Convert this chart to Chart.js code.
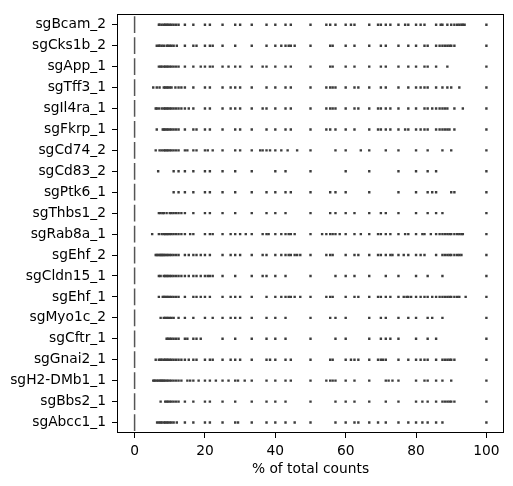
<!DOCTYPE html>
<html>
<head>
<meta charset="utf-8">
<script src="https://cdn.jsdelivr.net/npm/chart.js@4.4.1/dist/chart.umd.min.js"></script>
<style>
  html, body { margin: 0; padding: 0; background: #ffffff; }
  #wrap { width: 513px; height: 486px; position: relative; }
</style>
</head>
<body>
<div id="wrap"><canvas id="c"></canvas></div>
<script>
// ---- data ----
const categories = ["sgBcam_2","sgCks1b_2","sgApp_1","sgTff3_1","sgIl4ra_1","sgFkrp_1","sgCd74_2","sgCd83_2","sgPtk6_1","sgThbs1_2","sgRab8a_1","sgEhf_2","sgCldn15_1","sgEhf_1","sgMyo1c_2","sgCftr_1","sgGnai2_1","sgH2-DMb1_1","sgBbs2_1","sgAbcc1_1"];
const xTickValues = [0, 20, 40, 60, 80, 100];
const boxMedians = [0,0,0,0,0,0,0,0,0,0,0,0,0,0,0,0,0,0,0,0];

const pts_sgBcam_2 = [6.9,7.1,7.7,8.3,8.7,9.1,9.5,10,10.5,11.1,11.8,12.5,14.3,16.7,20,21.4,25,28.6,30,33.3,37.5,40,42.9,44.4,50,54.5,55.6,57.1,60,61.5,62.5,66.7,69.2,70,71.4,72.7,75,76.9,77.8,80,81.3,82.4,85.7,87,87.5,88.9,90,90.9,91.7,92.3,92.9,93.3,93.8,100];
const pts_sgCks1b_2 = [6.3,6.9,7.1,7.7,8.3,9.1,9.5,10,10.5,11.1,12,14.3,16.7,17.6,20,21.4,22.2,25,28.6,33.3,37.5,40,41.7,42.9,43.8,44.4,45.5,50,55.6,56.3,60,62.5,66.7,70,71.4,75,77.8,80,82.4,83.3,85.7,86.7,87.5,88.2,88.9,89.5,90,90.9,100];
const pts_sgApp_1 = [6.9,7.4,7.7,8.3,8.7,9.1,9.5,10,10.5,11.1,11.8,12.5,14.3,16.7,18.8,20,21.4,22.2,25,26.7,28.6,30,33.3,36.4,37.5,40,42.9,44.4,50,55.6,56.3,60,62.5,66.7,70,71.4,75,77.8,80,82.4,83.3,85.7,88.9,100];
const pts_sgTff3_1 = [5.3,6.3,7.1,8.3,8.7,9.1,9.5,10,10.5,11.6,12.5,13.3,14.3,16.7,20,21.4,25,27.3,28.6,30,33.3,37.5,40,42.9,44.4,50,54.5,55.6,56.3,57.1,60,62.5,63.6,66.7,70,71.4,75,77.8,80,81.3,82.4,83.3,85.7,87.5,88.9,90,92.3,100];
const pts_sgIl4ra_1 = [6,6.3,6.9,7.7,8.3,8.7,9.1,9.5,10,10.5,11.1,11.8,12.5,13.3,14.3,15.4,16.7,20,21.4,25,27.3,28.6,30,33.3,36.4,37.5,40,42.9,44.4,50,54.5,55.6,56.3,57.1,60,62.5,63.6,66.7,69.2,70,71.4,72.7,75,77.8,80,82.4,83.3,84.6,85.7,86.7,87.5,88.2,88.9,90.9,93.3,100];
const pts_sgFkrp_1 = [6.3,8,8.3,8.7,9.1,9.5,10,10.5,11.1,11.8,12.5,14.3,16.7,17.6,20,21.4,25,28.6,30,33.3,37.5,40,42.9,44.4,50,54.5,55.6,57.1,60,62.5,66.7,69.2,70,71.4,72.7,75,76.9,77.8,80,81.3,82.4,83.3,85.7,86.7,87.5,88.2,88.9,89.5,90.9,100];
const pts_sgCd74_2 = [6,7.1,7.7,8.3,8.7,9.1,9.5,10,10.5,11.1,11.8,12.5,14.3,15,16.7,17.6,20,20.8,22.2,25,28.6,30,33.3,35.7,36.4,37.5,38.5,40,41.7,43.5,46.2,50,57.1,60,64.3,66.7,71.4,75,80,83.3,87.5,90,100];
const pts_sgCd83_2 = [6.7,11.1,12.5,14.3,16.7,20,21.4,25,28.6,33.3,40,42.9,50,60,66.7,75,80,83.3,85.7,100];
const pts_sgPtk6_1 = [11.1,12.5,14.3,16.7,20,21.4,25,28.6,33.3,37.5,40,42.9,44.4,50,55.6,57.1,60,66.7,75,80,83.3,84.6,85.7,90,90.9,100];
const pts_sgThbs1_2 = [6.9,7.4,8,8.3,9.1,10,10.5,11.1,11.8,12.5,13.3,14.3,16.7,20,21.4,25,28.6,33.3,37.5,40,42.9,50,55.6,57.1,60,62.5,66.7,70,71.4,75,80,83.3,85.7,87.5,100];
const pts_sgRab8a_1 = [5,6.9,7.7,8.3,8.7,9.1,9.5,10,10.5,11.1,11.8,12.5,13.3,14.3,15.8,16.7,20,21.4,22.2,25,27.3,28.6,30,31.6,33.3,36.4,37.5,38.1,40,41.7,42.9,43.8,44.4,45.5,50,53.3,54.5,55.6,56.3,57.1,58.3,60,62.5,64.3,66.7,69.2,70,71.4,72.7,75,76.9,77.8,80,81.8,82.4,84.2,85.7,86.7,87.5,88.2,88.9,89.5,90,90.9,91.7,92.3,92.9,93.3,100];
const pts_sgEhf_2 = [6,6.3,6.7,7.1,7.4,7.7,8,8.3,8.7,9.1,9.5,10,10.5,11.1,11.8,12.5,14.3,15.4,16.7,17.6,18.8,20,21.4,25,27.3,28.6,30,33.3,36.4,37.5,40,41.7,42.9,43.8,44.4,45.5,46.2,47.1,50,54.5,55.6,56.3,60,62.5,63.6,66.7,69.2,70,71.4,72.7,73.3,75,76.5,77.8,80,81.3,82.4,85.7,87.5,88.2,88.9,89.5,90,90.9,91.7,92.3,92.9,100];
const pts_sgCldn15_1 = [6.9,7.4,8.3,8.7,9.1,9.5,10,10.5,11.1,11.8,12.5,13.3,14.3,15.4,16.7,17.6,18.8,20,20.8,21.4,22.2,25,28.6,33.3,36.4,37.5,40,42.9,50,57.1,60,62.5,66.7,71.4,75,80,83.3,87.5,100];
const pts_sgEhf_1 = [6.9,8,8.3,8.7,9.1,9.5,10,10.5,11.1,11.8,12.5,14.3,16.7,17.6,18.8,20,21.4,25,27.3,28.6,30,33.3,37.5,40,41.7,42.9,43.8,44.4,45.5,47.1,50,54.5,55.6,56.3,60,62.5,63.6,66.7,69.2,70,71.4,72.7,75,76.5,77.3,77.8,78.6,80,81.3,82.4,83.3,84.6,85.7,86.7,87.5,88.2,88.9,89.5,90,90.9,91.7,92.3,94.1,100];
const pts_sgMyo1c_2 = [7.4,8.3,8.7,9.1,9.5,10,10.5,11.1,12.5,14.3,16.7,20,22.2,25,27.3,28.6,30,33.3,37.5,40,42.9,50,55.6,57.1,60,66.7,70,71.4,75,77.8,80,83.3,84.6,87.5,100];
const pts_sgCftr_1 = [9.1,9.5,10,10.5,11.1,11.8,12.5,14.3,15,16.7,17.6,18.8,25,28.6,33.3,37.5,40,42.9,50,57.1,60,66.7,70,71.4,72.7,75,80,83.3,85.7,100];
const pts_sgGnai2_1 = [6,6.9,7.4,7.7,8.3,8.7,9.1,9.5,10,10.5,11.1,11.8,12.5,13.3,14.3,15.4,16.7,17.6,20,21.4,22.2,25,27.3,28.6,30,33.3,37.5,38.5,40,42.9,44.4,50,55.6,56.3,60,61.5,62.5,63.6,66.7,69.2,70,70.6,71.4,75,77.8,80,81.3,82.4,83.3,85.7,87.5,88.2,88.9,89.5,90,90.9,100];
const pts_sgH2_DMb1_1 = [5.3,5.6,5.9,6.3,6.7,7.1,7.4,7.7,8,8.3,8.7,9.1,9.5,10,10.5,11.1,11.8,12.5,13.3,15,15.8,16.7,18.2,20,21.4,23.1,25,26.7,28.6,29.4,31.3,33.3,37.5,40,42.9,44.4,50,54.5,55.6,56.3,57.1,60,62.5,66.7,71.4,72.2,73.3,75,80,82.4,83.3,85.7,87.5,90,100];
const pts_sgBbs2_1 = [7.4,8.7,9.1,9.5,10,10.5,11.1,11.8,12.5,14.3,16.7,20,21.4,25,28.6,33.3,37.5,40,42.9,50,57.1,60,62.5,66.7,71.4,75,80,81.8,83.3,85.7,87.5,88.2,88.9,89.5,90,90.9,100];
const pts_sgAbcc1_1 = [6.4,6.9,7.4,7.7,8.3,8.7,9.1,9.5,10,10.5,11.1,12,14.3,16.7,20,21.4,25,28.6,29.4,33.3,37.5,40,42.9,45.5,50,57.1,60,62.5,63.6,66.7,69.2,71.4,75,77.8,80,81.8,83.3,85.7,87.5,100];

const seriesValues = [pts_sgBcam_2, pts_sgCks1b_2, pts_sgApp_1, pts_sgTff3_1, pts_sgIl4ra_1, pts_sgFkrp_1, pts_sgCd74_2, pts_sgCd83_2, pts_sgPtk6_1, pts_sgThbs1_2, pts_sgRab8a_1, pts_sgEhf_2, pts_sgCldn15_1, pts_sgEhf_1, pts_sgMyo1c_2, pts_sgCftr_1, pts_sgGnai2_1, pts_sgH2_DMb1_1, pts_sgBbs2_1, pts_sgAbcc1_1];

// ---- build datasets ----
const pointData = [];
seriesValues.forEach((vals, i) => vals.forEach(v => pointData.push({x: v, y: i})));

const boxData = [];
boxMedians.forEach((m, i) => {
  boxData.push({x: m, y: i - 0.4});
  boxData.push({x: m, y: i + 0.4});
  boxData.push({x: null, y: null});
});

const FONT = {family: "'DejaVu Sans', sans-serif", size: 13.8};

const frame = {
  id: 'frame',
  afterDatasetsDraw(chart) {
    const {ctx, chartArea: a} = chart;
    ctx.save();
    ctx.strokeStyle = '#000';
    ctx.lineWidth = 1;
    ctx.strokeRect(Math.round(a.left) + 0.5, Math.round(a.top) + 0.5, Math.round(a.right - a.left) - 1, Math.round(a.bottom - a.top) - 1);
    ctx.restore();
  }
};

new Chart(document.getElementById('c'), {
  type: 'scatter',
  data: {
    datasets: [
      {
        type: 'line',
        data: boxData,
        borderColor: '#555555',
        borderWidth: 1.5,
        pointRadius: 0,
        spanGaps: false,
        showLine: true
      },
      {
        data: pointData,
        pointStyle: 'rect',
        pointRadius: 1.7,
        pointHoverRadius: 1.7,
        backgroundColor: '#3c3c3c',
        borderWidth: 0
      }
    ]
  },
  plugins: [frame],
  options: {
    responsive: true,
    maintainAspectRatio: false,
    animation: false,
    devicePixelRatio: 1,
    layout: {padding: {left: 0, right: 9, top: 9, bottom: 0}},
    plugins: {legend: {display: false}, tooltip: {enabled: false}},
    scales: {
      x: {
        type: 'linear',
        min: -5, max: 105,
        afterBuildTicks: s => { s.ticks = xTickValues.map(v => ({value: v})); },
        afterFit: s => { s.height = 53; },
        grid: {display: true, drawOnChartArea: false, drawTicks: true, tickLength: 5, color: '#000', tickWidth: 1},
        border: {display: false},
        ticks: {color: '#000', font: FONT, padding: 5, maxRotation: 0, callback: v => String(v)},
        title: {display: true, text: '% of total counts', color: '#000', font: FONT, padding: {top: 0, bottom: 8}}
      },
      y: {
        type: 'linear',
        min: -0.5, max: 19.5,
        reverse: true,
        afterBuildTicks: s => { s.ticks = categories.map((_, i) => ({value: i})); },
        afterFit: s => { s.width = 117; },
        grid: {display: true, drawOnChartArea: false, drawTicks: true, tickLength: 5, color: '#000', tickWidth: 1},
        border: {display: false},
        ticks: {color: '#000', font: FONT, padding: 6, callback: v => categories[v]}
      }
    }
  }
});
</script>
</body>
</html>
